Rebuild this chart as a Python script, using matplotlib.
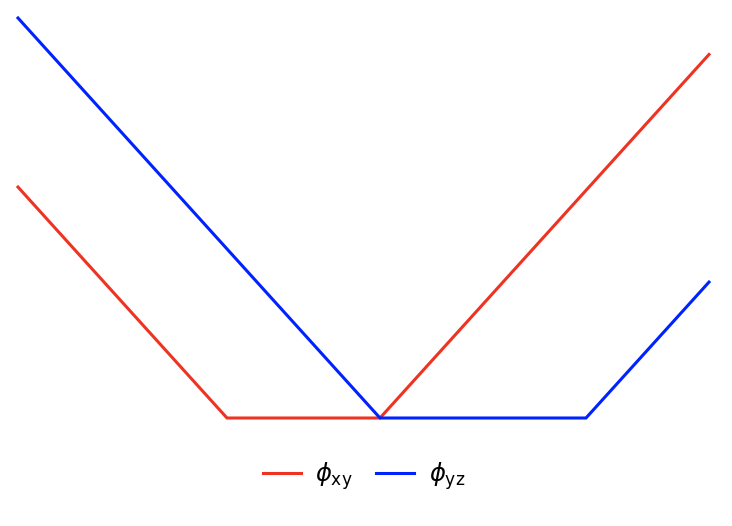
import matplotlib
matplotlib.use("Agg")
import matplotlib.pyplot as plt

# data
x_red = [-3.62, -1.53, 0.0, 3.29]
y_red = [2.09, 0.0, 0.0, 3.29]
x_blue = [-3.62, 0.0, 2.06, 3.29]
y_blue = [3.62, 0.0, 0.0, 1.23]
labels = [r"$\phi_{\rm xy}$", r"$\phi_{\rm yz}$"]

fig = plt.figure(figsize=(7.32, 5.26), dpi=100)
ax = fig.add_axes([18/732, (526-418)/526, 691/732, 400/526])
ax.plot(x_red, y_red, color="#ee3322", lw=2.2, label=labels[0], clip_on=False, solid_joinstyle="miter")
ax.plot(x_blue, y_blue, color="#0022ff", lw=2.2, label=labels[1], clip_on=False, solid_joinstyle="miter")
ax.set_xlim(-3.62, 3.29)
ax.set_ylim(0, 3.62)
ax.axis("off")
fig.legend(loc="center", bbox_to_anchor=(364/732, 1-476/526), ncol=2, frameon=False,
           fontsize=17.5, handlelength=1.56, columnspacing=0.95, handletextpad=0.6)
fig.savefig("out.png", dpi=100)
